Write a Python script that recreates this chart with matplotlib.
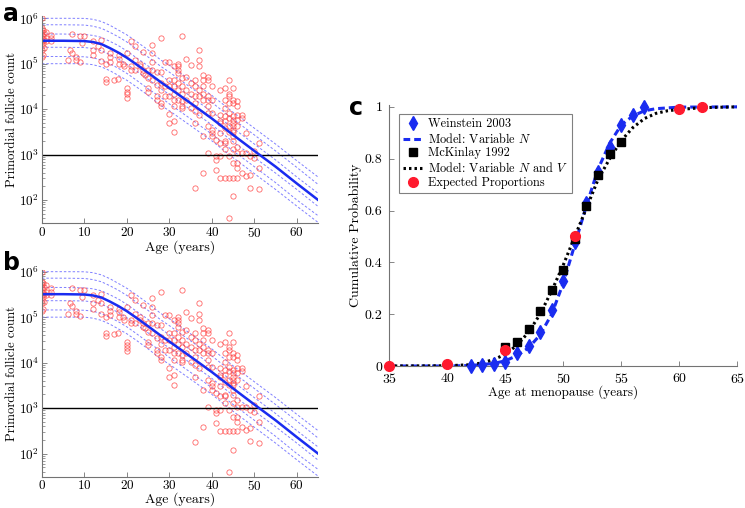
import matplotlib
matplotlib.use("Agg")
import matplotlib.pyplot as plt
from matplotlib.ticker import LogLocator, FixedLocator, NullFormatter

plt.rcParams["font.family"] = "serif"
plt.rcParams["font.serif"] = ["cmr10", "DejaVu Serif"]
plt.rcParams["mathtext.fontset"] = "cm"
plt.rcParams["axes.formatter.use_mathtext"] = True


follicle_age = [0, 0.3, 0.5, 1, 2, 6.1, 6.7, 7, 7.9, 8.1, 8.9, 9, 9.3, 10,
                12, 13.2, 14, 15, 15.9, 17, 17.9, 18.1, 19.1, 19.2, 19.9,
                20, 21, 22, 23, 23.8, 24.2, 25, 26, 27, 28, 29, 30, 31, 32,
                33, 34, 35, 36, 37, 38, 39, 40, 41, 42, 43, 44, 45, 46, 47,
                48, 49, 50, 51]
follicle_counts = [
    [1.0e6, 6.0e5, 5.1e5, 4.3e5, 3.6e5, 3.1e5, 2.4e5, 2.0e5, 1.4e5],
    [5.5e5, 4.0e5, 2.8e5, 1.55e5],
    [4.7e5, 3.3e5, 2.2e5],
    [5.1e5, 3.6e5, 3.1e5],
    [4.3e5, 3.6e5, 3.1e5],
    [1.2e5],
    [2.0e5],
    [4.4e5, 1.76e5],
    [1.4e5],
    [1.2e5],
    [4.0e5],
    [1.07e5],
    [2.8e5],
    [4.0e5],
    [3.1e5, 2.0e5, 1.55e5],
    [2.4e5],
    [3.3e5, 2.0e5, 1.15e5],
    [1.0e5, 4.5e4, 3.9e4],
    [1.7e5, 1.4e5, 1.1e5],
    [4.3e4],
    [4.5e4],
    [1.55e5, 1.3e5, 1.0e5],
    [1.0e5],
    [8.7e4],
    [1.7e5],
    [2.9e4, 2.4e4, 2.1e4, 1.8e4],
    [3.1e5, 8.7e4, 7.3e4],
    [2.4e5, 1.2e5, 7.3e4],
    [1.0e5, 8.7e4],
    [1.85e5, 7.3e4, 6.2e4],
    [5.7e4],
    [7.3e4, 4.8e4, 2.9e4, 2.4e4],
    [2.6e5, 1.7e5, 1.1e5, 7.3e4, 4.4e4],
    [6.7e4, 3.4e4, 1.9e4, 1.6e4],
    [3.6e5, 6.7e4, 3.7e4, 2.6e4, 1.35e4, 1.15e4],
    [1.1e5, 3.2e4, 1.9e4],
    [1.1e5, 4.4e4, 3.2e4, 1.9e4, 7.7e3, 4.9e3],
    [8.7e4, 4.4e4, 3.2e4, 2.2e4, 1.6e4, 1.15e4, 5.4e3, 3.2e3],
    [1.0e5, 8.7e4, 7.3e4, 6.2e4, 3.7e4, 2.6e4, 1.6e4],
    [4.0e5, 4.8e4, 3.2e4, 2.2e4, 1.5e4, 1.15e4, 1.05e4],
    [1.3e5, 5.2e4, 2.6e4, 1.6e4],
    [9.4e4, 3.7e4, 2.2e4, 1.05e4],
    [4.4e4, 3.2e4, 1.9e4, 1.35e4, 8.9e3, 4.9e3, 1.8e2],
    [2.0e5, 1.2e5, 8.7e4, 2.6e4, 1.9e4, 7.5e3],
    [5.7e4, 4.4e4, 3.2e4, 2.2e4, 1.6e4, 2.5e3, 3.9e2],
    [5.2e4, 4.4e4, 1.9e4, 1.6e4, 1.15e4, 8.2e3, 4.2e3, 1.08e3],
    [3.2e4, 1.6e4, 8.2e3, 3.5e3, 3.0e3, 2.5e3],
    [2.1e3, 9.1e2, 7.7e2, 4.6e2],
    [2.6e4, 7.5e3, 5.4e3, 4.9e3, 3.0e3, 1.8e3, 9.1e2, 3.1e2],
    [2.9e4, 1.6e4, 1.05e4, 6.9e3, 5.4e3, 3.8e3, 1.95e3, 1.8e3, 1.3e3, 3.1e2],
    [4.4e4, 2.2e4, 1.9e4, 1.35e4, 8.2e3, 6.4e3, 4.2e3, 3.2e3, 9.1e2, 3.1e2, 40],
    [2.9e4, 1.6e4, 1.35e4, 6.9e3, 5.9e3, 4.9e3, 4.2e3, 3.5e3, 3.2e3, 2.5e3,
     1.95e3, 1.3e3, 6.5e2, 3.1e2, 1.2e2],
    [1.5e4, 1.15e4, 7.5e3, 5.9e3, 4.2e3, 1.5e3, 1.08e3, 6.5e2, 5.0e2, 3.1e2],
    [7.5e3, 6.4e3, 1.08e3, 3.9e2],
    [3.0e3, 1.08e3, 3.3e2],
    [9.1e2, 3.6e2, 1.85e2],
    [1.2e3, 8.4e2],
    [1.8e3, 5.0e2, 1.7e2],
]

# Model curve and the dashed band lines around it.
model_age = [0, 5, 10, 12, 14, 16, 18, 20, 22, 25, 28, 30, 35, 40, 45, 50, 55, 60, 65]
model_mean = [3.2e5, 3.2e5, 3.15e5, 3.0e5, 2.7e5, 2.2e5, 1.75e5, 1.35e5, 1.0e5, 6.3e4,
              3.9e4, 2.9e4, 1.35e4, 6.2e3, 2.7e3, 1.2e3, 5.4e2, 2.3e2, 1.0e2]
band_lines = [
    [1.0e6, 1.0e6, 9.95e5, 9.5e5, 8.5e5, 7.0e5, 5.5e5, 4.3e5, 3.2e5, 2.0e5,
     1.2e5, 9.2e4, 4.3e4, 2.0e4, 8.5e3, 3.8e3, 1.7e3, 7.3e2, 3.2e2],
    [7.2e5, 7.2e5, 7.1e5, 6.7e5, 6.0e5, 4.9e5, 3.9e5, 3.0e5, 2.2e5, 1.4e5,
     8.7e4, 6.5e4, 3.0e4, 1.4e4, 6.0e3, 2.7e3, 1.2e3, 5.2e2, 2.2e2],
    [4.5e5, 4.5e5, 4.4e5, 4.2e5, 3.8e5, 3.1e5, 2.5e5, 1.9e5, 1.4e5, 8.9e4,
     5.5e4, 4.1e4, 1.9e4, 8.7e3, 3.8e3, 1.7e3, 7.6e2, 3.2e2, 1.4e2],
    [2.3e5, 2.3e5, 2.27e5, 2.16e5, 1.94e5, 1.58e5, 1.26e5, 9.7e4, 7.2e4, 4.5e4,
     2.8e4, 2.1e4, 9.7e3, 4.5e3, 1.9e3, 8.6e2, 3.9e2, 1.7e2, 72],
    [1.44e5, 1.44e5, 1.42e5, 1.35e5, 1.2e5, 9.9e4, 7.9e4, 6.1e4, 4.5e4, 2.8e4,
     1.8e4, 1.3e4, 6.1e3, 2.8e3, 1.2e3, 5.4e2, 2.4e2, 1.0e2, 45],
    [1.0e5, 1.0e5, 1.0e5, 9.5e4, 8.5e4, 7.0e4, 5.5e4, 4.3e4, 3.2e4, 2.0e4,
     1.2e4, 9.2e3, 4.3e3, 2.0e3, 8.5e2, 3.8e2, 1.7e2, 73, 32],
]
threshold = 1e3

# Panel c: cumulative menopause age.
weinstein_age = [42, 43, 44, 45, 46, 47, 48, 49, 50, 51, 52, 53, 54, 55, 56, 57]
weinstein_p = [0.0, 0.003, 0.008, 0.017, 0.049, 0.077, 0.133, 0.216, 0.329, 0.48,
               0.63, 0.75, 0.845, 0.93, 0.97, 1.0]
mckinlay_age = [45, 46, 47, 48, 49, 50, 51, 52, 53, 54, 55]
mckinlay_p = [0.072, 0.091, 0.144, 0.213, 0.294, 0.371, 0.49, 0.619, 0.738, 0.82, 0.865]
expected_age = [35, 40, 45, 51, 60, 62]
expected_p = [0.0, 0.008, 0.062, 0.5, 0.99, 1.0]
varN_age = [35, 40, 42, 44, 45, 46, 47, 48, 49, 50, 51, 52, 53, 54, 55, 56, 57, 58, 60, 65]
varN_p = [0, 0.0, 0.002, 0.01, 0.02, 0.04, 0.07, 0.12, 0.2, 0.32, 0.47, 0.62, 0.76,
          0.86, 0.93, 0.965, 0.985, 0.993, 0.999, 1.0]
varNV_age = [35, 40, 42, 43, 44, 45, 46, 47, 48, 49, 50, 51, 52, 53, 54, 55, 56, 57,
             58, 59, 60, 62, 65]
varNV_p = [0, 0.001, 0.005, 0.012, 0.025, 0.045, 0.08, 0.13, 0.2, 0.29, 0.39, 0.5,
           0.61, 0.72, 0.8, 0.87, 0.92, 0.955, 0.975, 0.985, 0.99, 0.997, 1.0]

AXIS_GREY = "0.45"


def style_axes(ax, size, pad):
    for side in ["top", "right"]:
        ax.spines[side].set_visible(False)
    for side in ["left", "bottom"]:
        ax.spines[side].set_color(AXIS_GREY)
        ax.spines[side].set_linewidth(0.8)
    ax.tick_params(which="both", direction="in", color=AXIS_GREY, labelsize=size)
    ax.tick_params(which="major", length=3.5, width=0.6)
    ax.tick_params(which="minor", length=2, width=0.5)
    ax.tick_params(axis="x", pad=pad[0])
    ax.tick_params(axis="y", pad=pad[1])


def draw_follicles(ax, xlabel_y):
    ages = []
    counts = []
    for a, cs in zip(follicle_age, follicle_counts):
        for c in cs:
            ages.append(a)
            counts.append(c)
    for line in band_lines:
        ax.plot(model_age, line, color="#7f7fff", lw=0.7, dashes=(2.5, 2))
    ax.plot(ages, counts, "o", ms=3.8, mfc="none", mec="#ff4d4d", mew=0.6, alpha=0.85)
    ax.axhline(threshold, color="black", lw=1)
    ax.plot(model_age, model_mean, color="#1a2cf0", lw=1.8)
    ax.set_yscale("log")
    ax.set_xlim(0, 65)
    ax.set_ylim(31, 1.1e6)
    ax.set_xticks([0, 10, 20, 30, 40, 50, 60])
    ax.yaxis.set_major_locator(FixedLocator([1e2, 1e3, 1e4, 1e5, 1e6]))
    ax.yaxis.set_minor_locator(LogLocator(base=10, subs=range(2, 10), numticks=20))
    ax.yaxis.set_minor_formatter(NullFormatter())
    style_axes(ax, 9.5, (2, 2))
    ax.set_xlabel("Age (years)", fontsize=10)
    ax.set_ylabel("Primordial follicle count", fontsize=9.2)
    ax.xaxis.set_label_coords(0.5, xlabel_y)
    ax.yaxis.set_label_coords(-0.088, 0.5)


fig = plt.figure(figsize=(7.45, 5.08), dpi=100)

ax_a = fig.add_axes([0.0564, 0.561, 0.3705, 0.4067])
draw_follicles(ax_a, -0.085)
ax_b = fig.add_axes([0.0564, 0.0616, 0.3705, 0.4073])
draw_follicles(ax_b, -0.075)

ax_c = fig.add_axes([0.5226, 0.2795, 0.467, 0.5132])
ax_c.plot(weinstein_age, weinstein_p, "d", color="#1a2cf0", ms=7.5, clip_on=False,
          label="Weinstein 2003", zorder=3)
ax_c.plot(varN_age, varN_p, color="#1a2cf0", lw=2.2, dashes=(2.2, 1.3),
          label="Model: Variable $N$", zorder=2)
ax_c.plot(mckinlay_age, mckinlay_p, "s", color="black", ms=5.2, clip_on=False,
          label="McKinlay 1992", zorder=3)
ax_c.plot(varNV_age, varNV_p, color="black", lw=2.2, dashes=(0.8, 1.0),
          label="Model: Variable $N$ and $V$", zorder=2)
ax_c.plot(expected_age, expected_p, "o", color="#ff1a2e", ms=7, clip_on=False,
          label="Expected Proportions", zorder=4)
ax_c.set_xlim(35, 65)
ax_c.set_ylim(0, 1.006)
ax_c.set_xticks([35, 40, 45, 50, 55, 60, 65])
ax_c.set_yticks([0, 0.2, 0.4, 0.6, 0.8, 1.0])
ax_c.set_yticklabels(["0", "0.2", "0.4", "0.6", "0.8", "1"])
style_axes(ax_c, 10, (4, 5))
ax_c.set_xlabel("Age at menopause (years)", fontsize=9.5)
ax_c.set_ylabel("Cumulative Probability", fontsize=10)
ax_c.xaxis.set_label_coords(0.5, -0.075)
ax_c.yaxis.set_label_coords(-0.079, 0.5)
leg = ax_c.legend(loc="upper left", bbox_to_anchor=(0.028, 0.967), borderaxespad=0,
                  fontsize=8.9, fancybox=False, edgecolor="0.5", framealpha=1,
                  handlelength=1.6, handletextpad=0.4, borderpad=0.35, labelspacing=0.12)
leg.get_frame().set_linewidth(0.8)

fig.text(0.004, 0.996, "a", fontsize=17, fontweight="bold", family="DejaVu Sans", va="top")
fig.text(0.004, 0.506, "b", fontsize=17, fontweight="bold", family="DejaVu Sans", va="top")
fig.text(0.468, 0.812, "c", fontsize=17, fontweight="bold", family="DejaVu Sans", va="top")

fig.savefig("out.png", dpi=100)
